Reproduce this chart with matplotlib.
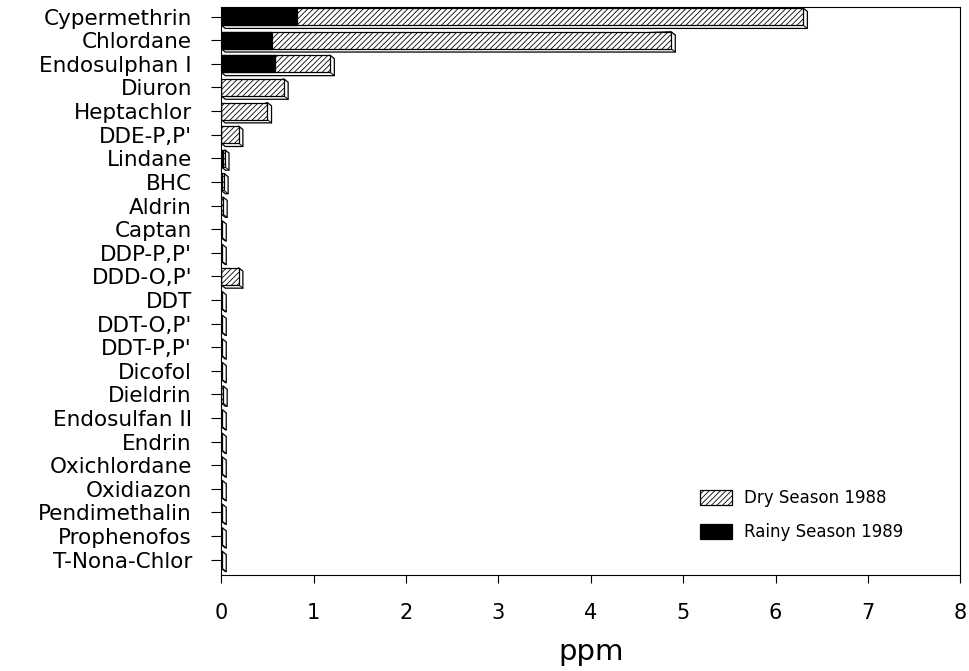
import numpy as np
import matplotlib.pyplot as plt
import matplotlib as mpl
from matplotlib.patches import Polygon

mpl.rcParams['font.family'] = ['DejaVu Sans']
mpl.rcParams['hatch.linewidth'] = 0.6

pesticides = ['Cypermethrin', 'Chlordane', 'Endosulphan I', 'Diuron', 'Heptachlor',
              "DDE-P,P'", 'Lindane', 'BHC', 'Aldrin', 'Captan', "DDP-P,P'", "DDD-O,P'",
              'DDT', "DDT-O,P'", "DDT-P,P'", 'Dicofol', 'Dieldrin', 'Endosulfan II',
              'Endrin', 'Oxichlordane', 'Oxidiazon', 'Pendimethalin', 'Prophenofos',
              'T-Nona-Chlor']
dry_1988 = [6.30, 4.87, 1.18, 0.68, 0.50, 0.19, 0.04, 0.03, 0.02, 0.01, 0.01, 0.19,
            0.01, 0.01, 0.01, 0.01, 0.02, 0.01, 0.01, 0.01, 0.01, 0.01, 0.01, 0.01]
rainy_1989 = [0.82, 0.55, 0.58, 0, 0, 0, 0.02, 0.01, 0, 0, 0, 0,
              0, 0, 0, 0, 0, 0, 0, 0, 0, 0, 0, 0]

fig = plt.figure(figsize=(9.7, 6.71), dpi=100)
ax = fig.add_axes([0.228, 0.143, 0.762, 0.847])

y = np.arange(len(pesticides))
h = 0.72
dx, dy = 0.045, 0.14

# fake 3d depth: side + bottom face behind each bar
for yi, w in zip(y, dry_1988):
    top, bot = yi - h / 2, yi + h / 2
    pts = [(w, top), (w + dx, top + dy), (w + dx, bot + dy), (dx, bot + dy), (0, bot)]
    ax.add_patch(Polygon(pts, closed=True, facecolor='white', edgecolor='black',
                         linewidth=0.9, zorder=1))
    ax.plot([w, w + dx], [bot, bot + dy], color='black', lw=0.7, zorder=1.5)

ax.barh(y, dry_1988, height=h, color='white', edgecolor='black', hatch='//////',
        linewidth=0.9, zorder=2, label='Dry Season 1988')
ax.barh(y, rainy_1989, height=h, color='black', edgecolor='black',
        linewidth=0.9, zorder=3, label='Rainy Season 1989')

ax.set_xlim(0, 8)
ax.set_ylim(len(pesticides) - 0.35, -0.42)
ax.set_yticks(y)
ax.set_yticklabels(pesticides, fontsize=15.5)
ax.set_xticks(range(9))
ax.tick_params(axis='x', labelsize=15, length=6, direction='out', pad=14)
ax.tick_params(axis='y', length=7, direction='out', pad=14)
ax.set_xlabel('ppm', fontsize=21, labelpad=11)
for s in ax.spines.values():
    s.set_linewidth(0.8)

leg = ax.legend(loc='lower left', bbox_to_anchor=(0.648, 0.06), frameon=False,
                fontsize=12, handlelength=1.9, handleheight=1.0, labelspacing=0.95,
                handletextpad=0.75, borderpad=0, borderaxespad=0)

fig.savefig('out.png', dpi=100)
